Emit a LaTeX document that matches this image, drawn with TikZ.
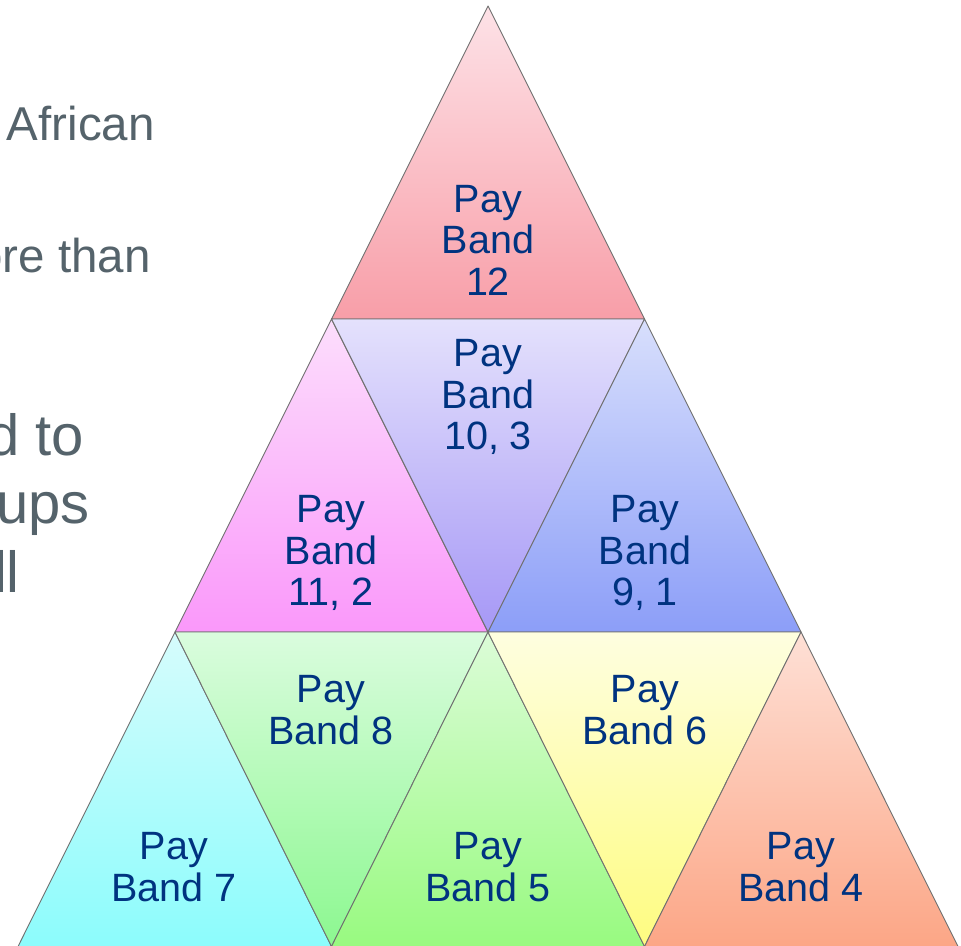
\documentclass[tikz,border=0pt]{standalone}
\usepackage{fontspec}
\setmainfont{Liberation Sans}
\usetikzlibrary{positioning}
\definecolor{bandtext}{RGB}{0,51,128}
\definecolor{slidegrey}{RGB}{85,99,107}
\definecolor{edge}{RGB}{112,112,112}
\tikzstyle{tri} = [draw=edge, line width=0.9pt, line join=round]
\tikzstyle{band} = [text=bandtext, align=center, inner sep=0pt, font=\fontsize{39.5}{41.5}\selectfont]
\tikzstyle{bullet} = [text=slidegrey, anchor=base east, inner sep=0pt, font=\fontsize{47.5}{52}\selectfont]
\tikzstyle{bigbullet} = [bullet, font=\fontsize{58}{68}\selectfont]

\begin{document}
\begin{tikzpicture}[x=1pt, y=-1pt]
\useasboundingbox (0,0) rectangle (961,945);
\clip (0,0) rectangle (961,945);

% text running in from the left
\node [bullet] (african) at (155,140) {African};
\node [bullet] (morethan) at (151,272) {ore than};
\node [bigbullet] (dto) at (84,455) {d to};
\node [bigbullet] (ups) at (90,523) {ups};
\node [bigbullet] (ll) at (20,592) {ll};

% corners
\coordinate (a) at (488,6);
\coordinate (b1) at (331.5,319);
\coordinate (b2) at (644.5,319);
\coordinate (c1) at (175,632);
\coordinate (c2) at (488,632);
\coordinate (c3) at (801,632);
\coordinate (d1) at (18,946.5);
\coordinate (d2) at (331.5,946.5);
\coordinate (d3) at (644.5,946.5);
\coordinate (d4) at (958,946.5);

% top row
\path [tri, top color={rgb,255:red,253;green,226;blue,231}, bottom color={rgb,255:red,248;green,158;blue,168}] (a) -- (b2) -- (b1) -- cycle;
% middle row
\path [tri, top color={rgb,255:red,252;green,222;blue,252}, bottom color={rgb,255:red,250;green,152;blue,250}] (b1) -- (c2) -- (c1) -- cycle;
\path [tri, top color={rgb,255:red,228;green,225;blue,252}, bottom color={rgb,255:red,166;green,152;blue,246}] (b1) -- (b2) -- (c2) -- cycle;
\path [tri, top color={rgb,255:red,216;green,223;blue,252}, bottom color={rgb,255:red,140;green,158;blue,248}] (b2) -- (c3) -- (c2) -- cycle;
% bottom row
\path [tri, top color={rgb,255:red,214;green,252;blue,252}, bottom color={rgb,255:red,140;green,252;blue,252}] (c1) -- (d2) -- (d1) -- cycle;
\path [tri, top color={rgb,255:red,218;green,252;blue,222}, bottom color={rgb,255:red,140;green,248;blue,144}] (c1) -- (c2) -- (d2) -- cycle;
\path [tri, top color={rgb,255:red,220;green,252;blue,216}, bottom color={rgb,255:red,152;green,250;blue,128}] (c2) -- (d3) -- (d2) -- cycle;
\path [tri, top color={rgb,255:red,254;green,254;blue,224}, bottom color={rgb,255:red,254;green,252;blue,128}] (c2) -- (c3) -- (d3) -- cycle;
\path [tri, top color={rgb,255:red,254;green,224;blue,214}, bottom color={rgb,255:red,252;green,166;blue,134}] (c3) -- (d4) -- (d3) -- cycle;

% labels
\node [band] (pb12) at (488,240) {Pay\\Band\\12};
\node [band] (pb103) at (488,397) {Pay\\Band\\10, 3};
\node [band] (pb112) at (331,553) {Pay\\Band\\11, 2};
\node [band] (pb91) at (645,553) {Pay\\Band\\9, 1};
\node [band] (pb8) at (331,710) {Pay\\Band 8};
\node [band] (pb6) at (645,710) {Pay\\Band 6};
\node [band] (pb7) at (174,867) {Pay\\Band 7};
\node [band] (pb5) at (488,867) {Pay\\Band 5};
\node [band] (pb4) at (801,867) {Pay\\Band 4};
\end{tikzpicture}
\end{document}
